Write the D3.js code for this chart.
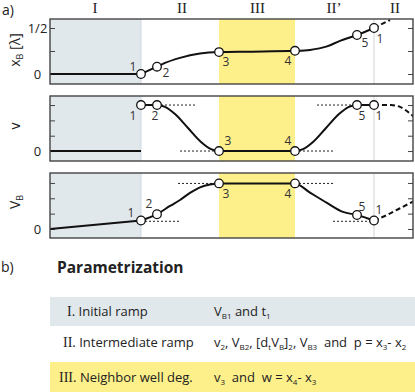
<!DOCTYPE html>
<html><head><meta charset="utf-8">
<script src="https://cdn.jsdelivr.net/npm/d3@7/dist/d3.min.js"></script>
<style>body{margin:0;background:#fff}svg{display:block}text{white-space:pre}</style>
</head><body><svg id="c" width="415" height="392"></svg>
<script>
// ---------- data ----------
const regionNames = ["I", "II", "III", "II’", "II"];
const regionLabelTimes = [4.5, 13.2, 20.75, 28.4, 34.5];
const regionI = [0, 9.1];
const regionIII = [16.9, 24.5];
const periodLine = 32.4;

const keyTimes = [9.1, 10.7, 16.9, 24.5, 30.7, 32.4];
const keyLabels = ["1", "2", "3", "4", "5", "1"];
const xBKey = [0, 0.079, 0.238, 0.252, 0.424, 0.5];
const vKey = [3, 3, 0, 0, 3, 3];
const VBKey = [0.55, 0.96, 2.97, 2.97, 0.91, 0.55];

const xBTicks = [0, 0.25, 0.5];
const xBTickLabels = ["0", "", "1/2"];
const vTicks = [0, 1, 2, 3];
const vTickLabels = ["0", "", "", ""];
const VBTicks = [0, 1, 2, 3];
const VBTickLabels = ["0", "", "", ""];

// x_B trajectory
const xBRampT = [0, 9.1];
const xBRampV = [0, 0];
const xBSolidT = [9.1, 10.7, 11.5, 13, 15, 16.9, 20, 24.5, 26, 27.7, 29, 30.7, 32.4];
const xBSolidV = [0, 0.079, 0.12, 0.175, 0.222, 0.238, 0.243, 0.252, 0.262, 0.30, 0.36, 0.424, 0.5];
const xBDashT = [32.4, 34.0];
const xBDashV = [0.5, 0.587];

// v trajectory
const vRampT = [0, 9.1];
const vRampV = [0, 0];
const vSolidT = [9.1, 10.7, 11.5, 12.5, 13.8, 15.1, 16.1, 16.9, 24.5, 25.3, 26.3, 27.6, 28.9, 29.9, 30.7, 32.4];
const vSolidV = [3, 3, 2.88, 2.41, 1.5, 0.59, 0.12, 0, 0, 0.12, 0.59, 1.5, 2.41, 2.88, 3, 3];
const vDashT = [32.4, 34.1, 35.0, 36.0, 36.6];
const vDashV = [3, 3, 2.88, 2.45, 2.1];

// V_B trajectory
const VBRampT = [0, 9.1];
const VBRampV = [0, 0.55];
const VBSolidT = [9.1, 10.7, 12, 13, 14, 15, 16, 16.9, 24.5, 26, 27.7, 29.3, 30.7, 32.4];
const VBSolidV = [0.55, 0.96, 1.5, 1.89, 2.35, 2.71, 2.9, 2.97, 2.97, 2.37, 1.70, 1.11, 0.91, 0.55];
const VBDashT = [32.4, 33.7, 35.0, 36.5];
const VBDashV = [0.55, 0.91, 1.35, 1.85];

// dotted guides: [t0, t1, value]
const vGuides = [[10.7, 14.6, 3], [13.0, 16.9, 0], [24.5, 28.5, 0], [26.7, 30.7, 3]];
const VBGuides = [[9.1, 13.0, 0.5], [12.8, 16.9, 2.97], [24.5, 28.5, 2.97], [28.3, 32.4, 0.5]];

// table
const tableRowNumerals = ["I.", "II.", "III."];
const tableRowNames = [" Initial ramp", " Intermediate ramp", " Neighbor well deg."];
const tableRowParams = [
  [["V"], ["B1", 1], [" and t"], ["1", 1]],
  [["v"], ["2", 1], [", V"], ["B2", 1], [", [d"], ["t", 1], ["V"], ["B", 1], ["]"], ["2", 1], [", V"], ["B3", 1], ["  and  p = x"], ["3", 1], ["- x"], ["2", 1]],
  [["v"], ["3", 1], ["  and  w = x"], ["4", 1], ["- x"], ["3", 1]]
];

// ---------- layout ----------
const svg = d3.select("#c");
const SANS = "'Open Sans', 'Noto Sans', sans-serif";
const SERIF = "'Liberation Serif', 'DejaVu Serif', serif";
const BLUE = "#e1e8ec", YELLOW = "#fdf08b";
const x = d3.scaleLinear().domain([0, 36.3]).range([50, 413]);

const panels = [
  {top: 19, bot: 84, dom: [-0.109, 0.598], ticks: xBTicks, tl: xBTickLabels, title: "xB", ty: 50, ki: xBKey,
   ramp: [xBRampT, xBRampV], solid: [[xBSolidT, xBSolidV]], dash: [[xBDashT, xBDashV]], guides: [],
   lab: [[-8, -7], [9, 6], [7, 10], [-7, 10], [8, 8], [6, 11]]},
  {top: 96, bot: 161, dom: [-0.65, 3.59], ticks: vTicks, tl: vTickLabels, title: "v", ty: 126, ki: vKey,
   ramp: [vRampT, vRampV], solid: [[vSolidT, vSolidV]], dash: [[vDashT, vDashV]], guides: vGuides,
   lab: [[-8, 11], [-2, 11], [9, -10], [-7, -10], [5, 11], [5, 11]]},
  {top: 173, bot: 238, dom: [-0.59, 3.65], ticks: VBTicks, tl: VBTickLabels, title: "VB", ty: 202, ki: VBKey,
   ramp: [VBRampT, VBRampV], solid: [[VBSolidT, VBSolidV]], dash: [[VBDashT, VBDashV]], guides: VBGuides,
   lab: [[-10, -8], [-8, -10], [7, 10], [-7, 10], [5, -8], [5, -11]]}
];

svg.append("text").attr("x", 2).attr("y", 15).attr("font-family", SANS).attr("font-size", 14).attr("fill", "#222").text("a)");
regionNames.forEach((n, i) => {
  svg.append("text").attr("x", x(regionLabelTimes[i])).attr("y", 13).attr("text-anchor", "middle")
    .attr("font-family", SERIF).attr("font-size", 15).attr("fill", "#222").text(n);
});

panels.forEach((p, pi) => {
  const y = d3.scaleLinear().domain(p.dom).range([p.bot, p.top]);
  const g = svg.append("g");
  const cid = "clip" + pi;
  svg.append("clipPath").attr("id", cid).append("rect")
    .attr("x", 50).attr("y", p.top).attr("width", 363).attr("height", p.bot - p.top);
  g.append("rect").attr("x", x(regionI[0])).attr("y", p.top).attr("width", x(regionI[1]) - x(regionI[0])).attr("height", p.bot - p.top).attr("fill", BLUE);
  g.append("line").attr("x1", x(regionI[1])).attr("x2", x(regionI[1])).attr("y1", p.top).attr("y2", p.bot).attr("stroke", "#cbd8e1").attr("stroke-width", 1);
  g.append("rect").attr("x", x(regionIII[0])).attr("y", p.top).attr("width", x(regionIII[1]) - x(regionIII[0])).attr("height", p.bot - p.top).attr("fill", YELLOW);
  g.append("line").attr("x1", x(periodLine)).attr("x2", x(periodLine)).attr("y1", p.top).attr("y2", p.bot).attr("stroke", "#e2e2e2").attr("stroke-width", 1.5);

  const la = d3.axisLeft(y).tickValues(p.ticks).tickSize(-5).tickFormat((d, i) => p.tl[i]);
  const ra = d3.axisRight(y).tickValues(p.ticks).tickSize(-5).tickFormat("");
  const lg = g.append("g").attr("transform", "translate(50,0)").call(la);
  const rg = g.append("g").attr("transform", "translate(413,0)").call(ra);
  [lg, rg].forEach(a => { a.select(".domain").remove(); a.selectAll("line").attr("stroke", "#444").attr("stroke-width", 1); });
  lg.selectAll("text").attr("x", -12.5).attr("text-anchor", "middle").attr("font-family", SANS).attr("font-size", 13).attr("fill", "#222");

  const line = d3.line().x(d => x(d[0])).y(d => y(d[1])).curve(d3.curveMonotoneX);
  const lin = d3.line().x(d => x(d[0])).y(d => y(d[1]));
  const cg = g.append("g").attr("clip-path", `url(#${cid})`);
  p.guides.forEach(gd => {
    cg.append("line").attr("x1", x(gd[0])).attr("x2", x(gd[1])).attr("y1", y(gd[2])).attr("y2", y(gd[2]))
      .attr("stroke", "#222").attr("stroke-width", 1).attr("stroke-dasharray", "2,2");
  });
  cg.append("path").attr("d", lin(d3.zip(p.ramp[0], p.ramp[1]))).attr("fill", "none").attr("stroke", "#111").attr("stroke-width", 2);
  p.solid.forEach(s => {
    cg.append("path").attr("d", line(d3.zip(s[0], s[1]))).attr("fill", "none").attr("stroke", "#111").attr("stroke-width", 2);
  });
  p.dash.forEach(s => {
    cg.append("path").attr("d", line(d3.zip(s[0], s[1]))).attr("fill", "none").attr("stroke", "#111").attr("stroke-width", 2).attr("stroke-dasharray", "5,3");
  });

  g.append("rect").attr("x", 50).attr("y", p.top).attr("width", 363).attr("height", p.bot - p.top)
    .attr("fill", "none").attr("stroke", "#444").attr("stroke-width", 1.4);

  keyTimes.forEach((t, i) => {
    g.append("circle").attr("cx", x(t)).attr("cy", y(p.ki[i])).attr("r", 4.3)
      .attr("fill", "#fff").attr("stroke", "#111").attr("stroke-width", 1.3);
    g.append("text").attr("x", x(t) + p.lab[i][0]).attr("y", y(p.ki[i]) + p.lab[i][1]).attr("dy", "0.35em")
      .attr("text-anchor", "middle").attr("font-family", SANS).attr("font-size", 12).attr("fill", "#333").text(keyLabels[i]);
  });

  const tt = svg.append("text").attr("transform", `translate(20,${p.ty}) rotate(-90)`).attr("text-anchor", "middle")
    .attr("font-family", SANS).attr("font-size", 14).attr("fill", "#222");
  if (p.title === "xB") {
    tt.append("tspan").text("x");
    tt.append("tspan").attr("font-size", 9).attr("dy", 3).text("B");
    tt.append("tspan").attr("dy", -3).text(" [λ]");
  } else if (p.title === "VB") {
    tt.append("tspan").text("V");
    tt.append("tspan").attr("font-size", 9).attr("dy", 3).text("B");
  } else {
    tt.text("v");
  }
});

// ---------- table ----------
svg.append("text").attr("x", 1).attr("y", 272).attr("font-family", SANS).attr("font-size", 14).attr("fill", "#222").text("b)");
svg.append("text").attr("x", 57).attr("y", 273).attr("font-family", SANS).attr("font-size", 15.5).attr("font-weight", "bold").attr("fill", "#222").text("Parametrization");

const rowBands = [[297, 326, BLUE], null, [362, 392, YELLOW]];
const rowBase = [316, 347, 382];
const rowX = [67, 63, 59];
rowBands.forEach(b => { if (b) svg.append("rect").attr("x", 50).attr("y", b[0]).attr("width", 365).attr("height", b[1] - b[0]).attr("fill", b[2]); });
tableRowNames.forEach((n, i) => {
  const t = svg.append("text").attr("x", rowX[i]).attr("y", rowBase[i]).attr("font-size", 13).attr("fill", "#222");
  t.append("tspan").attr("font-family", SERIF).attr("font-size", 14).text(tableRowNumerals[i]);
  t.append("tspan").attr("font-family", SANS).text(n);
  const q = svg.append("text").attr("x", 214).attr("y", rowBase[i]).attr("font-family", SANS).attr("font-size", 13).attr("fill", "#222");
  let sub = false;
  tableRowParams[i].forEach(seg => {
    const s = q.append("tspan").text(seg[0]);
    if (seg[1] && !sub) { s.attr("font-size", 8).attr("dy", 3); sub = true; }
    else if (!seg[1] && sub) { s.attr("dy", -3); sub = false; }
    else if (seg[1]) { s.attr("font-size", 8); }
  });
});
</script></body></html>
